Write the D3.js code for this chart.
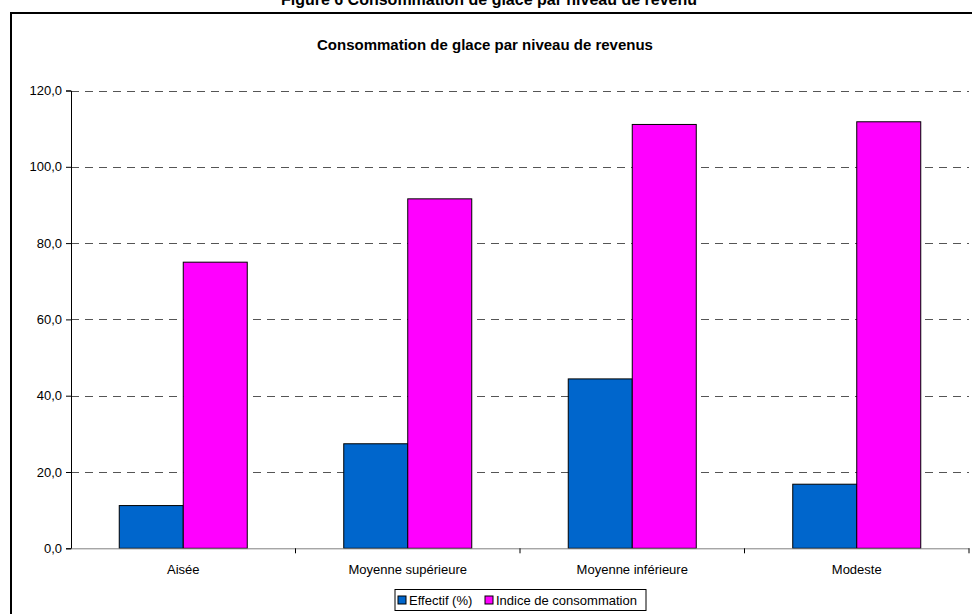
<!DOCTYPE html>
<html>
<head>
<meta charset="utf-8">
<script src="https://cdn.jsdelivr.net/npm/d3@7"></script>
<style>
  body { margin: 0; background: #fff; }
  svg { display: block; font-family: "Liberation Sans", Arial, sans-serif; }
</style>
</head>
<body>
<svg id="chart" width="972" height="614"></svg>
<script>
// data
var categories = ["Aisée", "Moyenne supérieure", "Moyenne inférieure", "Modeste"];
var seriesNames = ["Effectif (%)", "Indice de consommation"];
var effectif = [11.2, 27.4, 44.4, 16.8];
var indice = [75.0, 91.6, 111.1, 111.8];
var yTicks = [0, 20, 40, 60, 80, 100, 120];
var colors = ["#0066cc", "#ff00ff"];

var svg = d3.select("#chart");
// note: "top" is taken by window.top, so use other names
var plotLeft = 71, plotRight = 969, plotTop = 90.5, plotBottom = 548.3;

// outer frame
svg.append("rect")
    .attr("x", 11).attr("y", 13)
    .attr("width", 980).attr("height", 620)
    .attr("fill", "none")
    .attr("stroke", "#000")
    .attr("stroke-width", 2);

svg.append("text")
    .attr("x", 489).attr("y", 5)
    .attr("text-anchor", "middle")
    .style("font-size", "16px")
    .style("font-weight", "bold")
    .text("Figure 6 Consommation de glace par niveau de revenu");

svg.append("text")
    .attr("x", 485).attr("y", 50)
    .attr("text-anchor", "middle")
    .style("font-size", "15px")
    .style("font-weight", "bold")
    .text("Consommation de glace par niveau de revenus");

var y = d3.scaleLinear().domain([0, 120]).range([plotBottom, plotTop]);
var x0 = d3.scaleBand().domain(categories).range([plotLeft, plotRight]);
var groupW = 128;
var x1 = d3.scaleBand().domain(seriesNames).range([0, groupW]);

// dashed gridlines
svg.append("g")
    .selectAll("line")
    .data(yTicks.filter(function (d) { return d > 0; }))
    .enter()
    .append("line")
    .attr("x1", plotLeft).attr("x2", plotRight)
    .attr("y1", function (d) { return Math.round(y(d)) + 0.5; })
    .attr("y2", function (d) { return Math.round(y(d)) + 0.5; })
    .attr("stroke", "#555")
    .attr("stroke-dasharray", "8,6");

// bars
var rows = categories.map(function (c, i) {
    return { cat: c, vals: [effectif[i], indice[i]] };
});
var groups = svg.append("g")
    .selectAll("g")
    .data(rows)
    .enter()
    .append("g")
    .attr("transform", function (d) {
        return "translate(" + (x0(d.cat) + (x0.bandwidth() - groupW) / 2) + ",0)";
    });
groups.selectAll("rect")
    .data(function (d) { return d.vals.map(function (v, j) { return { s: seriesNames[j], v: v, j: j }; }); })
    .enter()
    .append("rect")
    .attr("x", function (d) { return x1(d.s); })
    .attr("y", function (d) { return y(d.v); })
    .attr("width", x1.bandwidth())
    .attr("height", function (d) { return y(0) - y(d.v); })
    .attr("fill", function (d) { return colors[d.j]; })
    .attr("stroke", "#000")
    .attr("stroke-width", 1);

// y axis
var yAxis = d3.axisLeft(y)
    .tickValues(yTicks)
    .tickSize(5)
    .tickFormat(function (d) { return d3.format(".1f")(d).replace(".", ","); });
var gy = svg.append("g")
    .attr("transform", "translate(" + plotLeft + ",0)")
    .call(yAxis);
gy.select(".domain").attr("stroke", "#000");
gy.selectAll(".tick line").attr("stroke", "#000");
gy.selectAll(".tick text")
    .attr("x", -9)
    .style("font-size", "13px")
    .style("font-family", "Liberation Sans, Arial, sans-serif")
    .attr("fill", "#000");

// x axis
var xAxis = d3.axisBottom(x0).tickSize(0).tickPadding(16);
var gx = svg.append("g")
    .attr("transform", "translate(0," + plotBottom + ")")
    .call(xAxis);
gx.select(".domain").attr("stroke", "#808080");
gx.selectAll(".tick text")
    .style("font-size", "13px")
    .style("font-family", "Liberation Sans, Arial, sans-serif")
    .attr("fill", "#000");
// tick marks between categories
gx.selectAll(".sep")
    .data(categories.slice(1).concat(["end"]))
    .enter()
    .append("line")
    .attr("class", "sep")
    .attr("x1", function (d) { return d === "end" ? plotRight : x0(d); })
    .attr("x2", function (d) { return d === "end" ? plotRight : x0(d); })
    .attr("y1", 0).attr("y2", 5)
    .attr("stroke", "#000");

// legend
var lg = svg.append("g").attr("transform", "translate(395,589.5)");
lg.append("rect")
    .attr("width", 251).attr("height", 21)
    .attr("fill", "#fff").attr("stroke", "#000");
var itemX = [3, 90];
seriesNames.forEach(function (s, i) {
    lg.append("rect")
        .attr("x", itemX[i]).attr("y", 6.5)
        .attr("width", 8).attr("height", 8)
        .attr("fill", colors[i]).attr("stroke", "#000");
    lg.append("text")
        .attr("x", itemX[i] + 11).attr("y", 15.5)
        .style("font-size", "13px")
        .text(s);
});
</script>
</body>
</html>
